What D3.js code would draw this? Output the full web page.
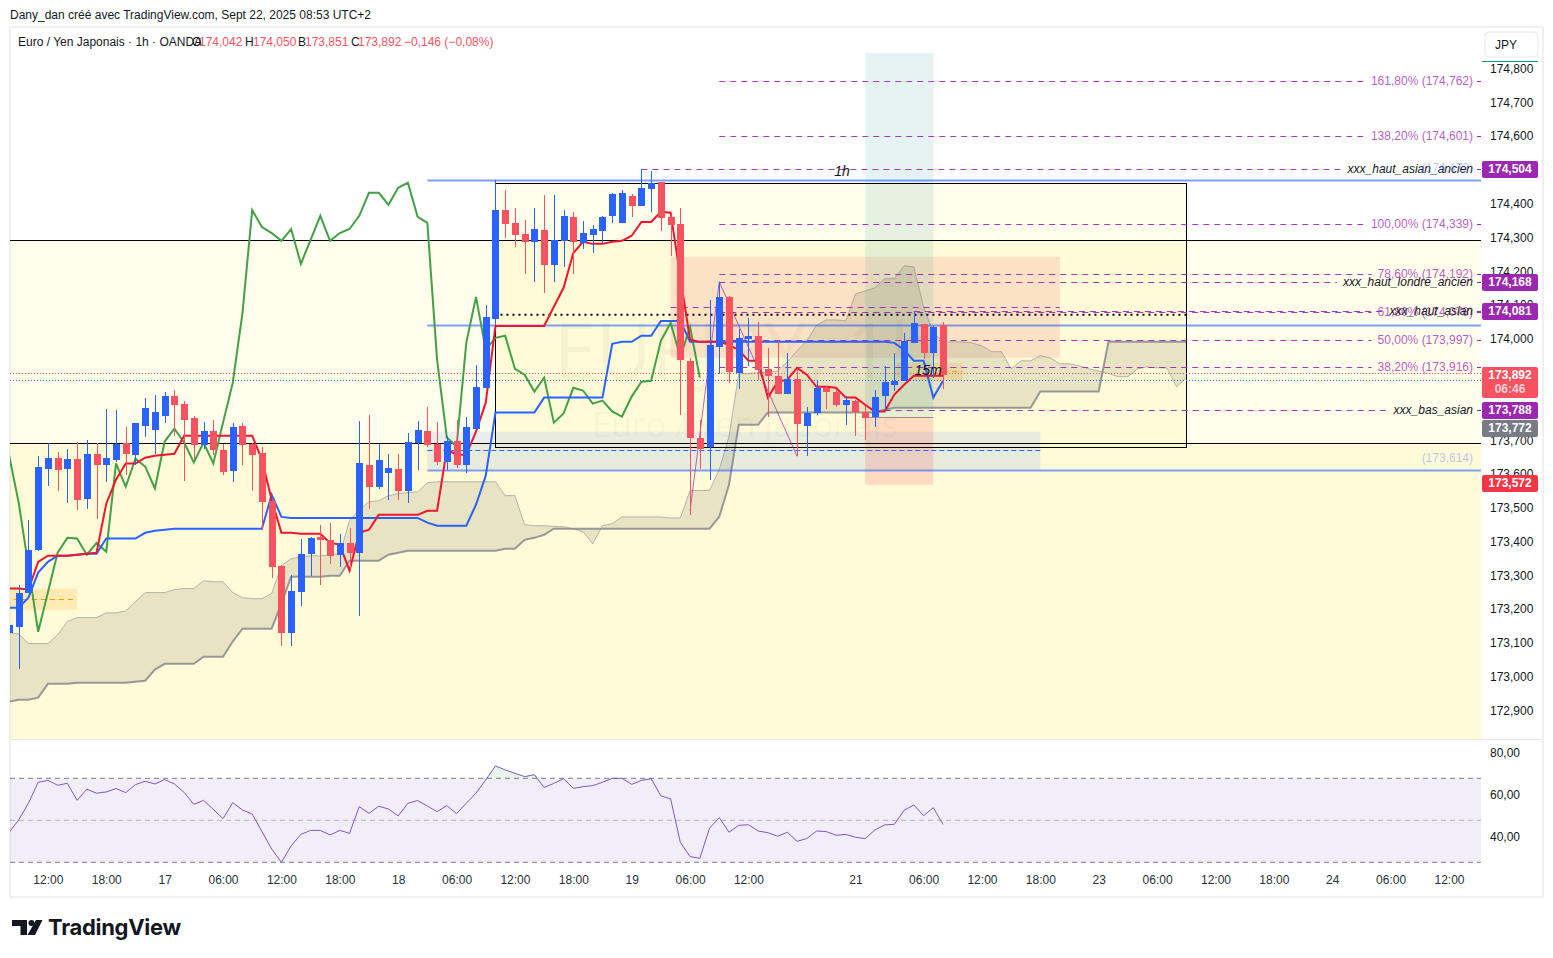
<!DOCTYPE html>
<html>
<head>
<meta charset="utf-8">
<script src="https://cdn.jsdelivr.net/npm/d3@7"></script>
<style>
  html, body { margin: 0; padding: 0; background: #fff; }
  svg { display: block; font-family: "Liberation Sans", Arial, sans-serif; }
</style>
</head>
<body>
<div id="chart"></div>
<script>
// candles, one per hour, first one sits at index -1
const FIRST_INDEX = -1;
const opens = [173.130,173.148,173.249,173.376,173.616,173.648,173.616,173.645,173.527,173.660,173.628,173.642,173.693,173.657,173.743,173.731,173.773,173.832,173.808,173.767,173.687,173.728,173.672,173.610,173.743,173.690,173.663,173.521,173.329,173.130,173.252,173.364,173.414,173.405,173.361,173.396,173.367,173.628,173.562,173.604,173.616,173.551,173.693,173.728,173.690,173.634,173.699,173.628,173.734,173.855,174.059,174.381,174.343,174.310,174.287,174.322,174.219,174.290,174.361,174.284,174.307,174.319,174.364,174.343,174.423,174.393,174.444,174.465,174.361,174.340,173.935,173.705,173.681,173.976,174.124,173.899,174.000,174.009,173.911,173.890,173.838,173.882,173.743,173.779,173.855,173.844,173.805,173.817,173.782,173.770,173.832,173.864,173.876,173.988,174.044,173.958,174.042];
const highs = [173.169,173.272,173.465,173.654,173.693,173.666,173.675,173.696,173.702,173.693,173.793,173.790,173.740,173.752,173.826,173.835,173.844,173.850,173.817,173.773,173.755,173.761,173.690,173.752,173.752,173.693,173.681,173.524,173.332,173.302,173.409,173.414,173.450,173.456,173.423,173.441,173.758,173.776,173.690,173.660,173.660,173.722,173.758,173.799,173.755,173.711,173.761,173.770,173.923,174.100,174.470,174.441,174.387,174.352,174.387,174.426,174.426,174.381,174.376,174.349,174.337,174.364,174.432,174.441,174.429,174.503,174.497,174.465,174.376,174.387,173.944,173.761,174.115,174.169,174.127,174.030,174.062,174.050,173.973,173.997,173.958,173.911,173.799,173.876,173.861,173.850,173.832,173.820,173.802,173.850,173.920,173.958,174.018,174.080,174.044,174.038,174.050];
const lows = [173.110,173.024,173.249,173.373,173.565,173.551,173.515,173.494,173.497,173.468,173.577,173.636,173.598,173.628,173.708,173.660,173.752,173.711,173.580,173.642,173.675,173.657,173.598,173.577,173.628,173.551,173.435,173.293,173.092,173.092,173.210,173.299,173.272,173.334,173.326,173.314,173.181,173.497,173.557,173.524,173.524,173.515,173.613,173.681,173.628,173.613,173.619,173.604,173.734,173.855,174.041,174.299,174.272,174.192,174.169,174.136,174.169,174.213,174.192,174.266,174.254,174.284,174.343,174.343,174.361,174.393,174.376,174.319,174.245,173.776,173.479,173.616,173.583,173.897,173.870,173.852,173.920,173.879,173.770,173.838,173.838,173.654,173.654,173.776,173.793,173.799,173.746,173.711,173.702,173.740,173.785,173.847,173.876,173.988,173.941,173.885,173.851];
const closes = [173.154,173.249,173.376,173.622,173.648,173.613,173.645,173.524,173.660,173.628,173.648,173.690,173.660,173.752,173.796,173.782,173.832,173.805,173.761,173.687,173.728,173.672,173.607,173.740,173.687,173.657,173.518,173.326,173.130,173.255,173.364,173.411,173.405,173.358,173.396,173.367,173.631,173.560,173.642,173.619,173.551,173.696,173.731,173.687,173.634,173.699,173.628,173.740,173.858,174.065,174.381,174.340,174.307,174.287,174.325,174.219,174.293,174.364,174.287,174.313,174.325,174.361,174.429,174.432,174.393,174.447,174.462,174.358,174.337,173.938,173.705,173.675,173.982,174.124,173.902,174.003,174.009,173.908,173.890,173.838,173.882,173.749,173.779,173.855,173.844,173.805,173.820,173.782,173.767,173.829,173.873,173.876,173.994,174.047,173.958,174.035,173.892];

// ichimoku lines, same index origin
const tenkan = [173.261,173.261,173.258,173.340,173.358,173.358,173.358,173.361,173.364,173.367,173.512,173.583,173.631,173.631,173.648,173.654,173.657,173.660,173.713,173.713,173.713,173.713,173.713,173.713,173.713,173.713,173.642,173.524,173.426,173.426,173.423,173.423,173.423,173.396,173.391,173.314,173.426,173.435,173.479,173.479,173.479,173.479,173.479,173.491,173.491,173.672,173.657,173.657,173.725,173.811,174.038,174.038,174.038,174.038,174.038,174.038,174.095,174.151,174.254,174.287,174.281,174.281,174.287,174.290,174.305,174.346,174.346,174.376,174.373,174.183,173.997,173.991,173.991,173.991,173.982,173.967,173.935,173.935,173.826,173.873,173.879,173.914,173.894,173.858,173.858,173.855,173.826,173.826,173.805,173.785,173.785,173.835,173.864,173.891,173.891,173.891,173.891];
const kijun = [173.204,173.204,173.234,173.308,173.340,173.358,173.358,173.361,173.364,173.364,173.409,173.409,173.409,173.409,173.426,173.432,173.435,173.438,173.438,173.438,173.438,173.438,173.438,173.438,173.438,173.438,173.438,173.539,173.473,173.470,173.470,173.470,173.470,173.470,173.470,173.470,173.470,173.470,173.470,173.470,173.470,173.470,173.470,173.456,173.447,173.447,173.447,173.447,173.509,173.595,173.782,173.782,173.782,173.782,173.782,173.826,173.826,173.826,173.826,173.826,173.826,173.826,173.985,173.991,173.991,174.009,174.009,174.053,174.053,174.053,173.991,173.991,173.991,173.991,173.991,173.991,173.991,173.991,173.991,173.991,173.991,173.991,173.991,173.991,173.991,173.991,173.991,173.991,173.991,173.991,173.991,173.988,173.967,173.935,173.935,173.826,173.876];
const lagging = [173.657,173.515,173.326,173.133,173.249,173.367,173.411,173.409,173.361,173.396,173.370,173.631,173.562,173.645,173.622,173.557,173.696,173.734,173.693,173.634,173.693,173.631,173.752,173.870,174.077,174.381,174.331,174.313,174.290,174.325,174.222,174.293,174.364,174.290,174.313,174.325,174.364,174.432,174.432,174.397,174.447,174.462,174.361,174.343,173.938,173.708,173.681,173.988,174.124,173.967,174.003,174.009,173.911,173.894,173.844,173.885,173.752,173.779,173.855,173.847,173.808,173.817,173.785,173.770,173.829,173.873,173.876,173.994,174.047,173.947,174.035,173.885];
const spanA = [173.130,173.127,173.098,173.098,173.098,173.124,173.163,173.175,173.175,173.175,173.189,173.189,173.195,173.222,173.249,173.249,173.249,173.258,173.261,173.261,173.284,173.281,173.281,173.249,173.234,173.231,173.231,173.246,173.329,173.349,173.355,173.358,173.358,173.361,173.364,173.462,173.494,173.518,173.521,173.536,173.542,173.545,173.547,173.574,173.577,173.577,173.577,173.577,173.577,173.577,173.577,173.536,173.536,173.450,173.447,173.447,173.445,173.444,173.438,173.429,173.393,173.447,173.453,173.473,173.473,173.473,173.473,173.473,173.470,173.470,173.551,173.551,173.551,173.613,173.711,173.897,173.897,173.900,173.902,173.905,173.932,173.965,173.994,174.041,174.056,174.056,174.053,174.133,174.142,174.151,174.178,174.178,174.216,174.213,174.095,174.018,173.991,173.991,173.991,173.988,173.979,173.962,173.962,173.911,173.935,173.935,173.950,173.944,173.926,173.926,173.920,173.911,173.905,173.897,173.888,173.888,173.911,173.917,173.914,173.914,173.858,173.885];
const spanB = [172.926,172.932,172.932,172.938,172.979,172.979,172.979,172.982,172.982,172.982,172.982,172.982,172.982,172.985,172.988,173.021,173.038,173.038,173.038,173.038,173.059,173.059,173.059,173.104,173.142,173.142,173.142,173.142,173.216,173.296,173.296,173.296,173.296,173.299,173.299,173.343,173.343,173.343,173.343,173.361,173.367,173.373,173.373,173.373,173.373,173.373,173.373,173.373,173.373,173.373,173.373,173.379,173.379,173.405,173.411,173.420,173.438,173.438,173.438,173.438,173.438,173.438,173.438,173.438,173.438,173.438,173.438,173.438,173.438,173.438,173.438,173.438,173.438,173.473,173.568,173.746,173.746,173.746,173.782,173.782,173.782,173.782,173.782,173.782,173.782,173.782,173.782,173.782,173.782,173.782,173.790,173.796,173.796,173.796,173.796,173.796,173.796,173.796,173.796,173.796,173.796,173.796,173.796,173.796,173.796,173.796,173.844,173.844,173.844,173.844,173.844,173.844,173.844,173.991,173.991,173.991,173.991,173.991,173.991,173.991,173.991,173.991,173.991];

// thin purple zigzag
const zigzagIndex = [69, 72, 80];
const zigzagPrice = [173.491, 174.169, 173.652];

// rsi pane, same index origin
const rsi = [44.1,50.2,58.1,68.1,69.0,66.7,67.6,59.5,64.8,62.9,63.5,65.1,63.2,67.0,68.6,67.3,69.4,67.3,63.3,57.6,59.5,55.2,50.8,58.4,54.9,53.0,44.6,36.3,30.0,37.8,43.3,45.2,45.2,43.0,45.2,43.8,56.5,53.3,56.7,55.4,52.1,58.1,59.4,56.8,54.1,57.0,53.2,58.1,62.9,69.2,75.9,74.0,72.4,70.8,71.7,65.6,67.6,69.8,65.2,66.0,66.5,68.1,70.0,70.0,67.1,69.0,69.8,61.6,60.2,39.5,32.7,31.9,46.2,51.3,44.3,47.6,47.9,44.9,44.1,42.4,44.3,40.0,41.3,44.9,44.6,42.9,43.3,41.9,41.3,45.4,47.8,48.1,54.8,57.3,52.2,56.0,48.1];
const rsiLevels = [70, 50, 30];
const rsiTicks = [80, 60, 40];

// axes
const priceTicks = [174.8,174.7,174.6,174.5,174.4,174.3,174.2,174.1,174.0,173.9,173.8,173.7,173.6,173.5,173.4,173.3,173.2,173.1,173.0,172.9];
const timeTickIndex = [3,9,15,21,27,33,39,45,51,57,63,69,75,86,93,99,105,111,117,123,129,135,141,147];
const timeTickLabels = ["12:00","18:00","17","06:00","12:00","18:00","18","06:00","12:00","18:00","19","06:00","12:00","21","06:00","12:00","18:00","23","06:00","12:00","18:00","24","06:00","12:00"];

// fibonacci levels, from index 72
const fibValues = [174.762,174.601,174.339,174.192,174.078,173.997,173.916];
const fibLabels = ["161,80% (174,762)","138,20% (174,601)","100,00% (174,339)","78,60% (174,192)","61,80% (174,078)","50,00% (173,997)","38,20% (173,916)"];

// named levels
const namedValues = [174.504,174.168,174.081,173.788];
const namedStarts = [64,72,92,89];
const namedLabels = ["xxx_haut_asian_ancien","xxx_haut_londre_ancien","xxx_haut_asian","xxx_bas_asian"];

// price tags on the right
const tagValues = [174.504,174.168,174.081,173.788,173.772,173.572];
const tagLabels = ["174,504","174,168","174,081","173,788","173,772","173,572"];
const tagColors = ["#9c27b0","#9c27b0","#9c27b0","#9c27b0","#787b86","#f23645"];
const tagShift = [0,0,0,0,12,0];

const width = 1553;
const height = 958;
const pane = { left: 10, right: 1481, top: 27, bottom: 739 };
const UP = "#2962ff";
const DOWN = "#f7525f";

const x = d3.scaleLinear().domain([0, 147]).range([18.7, 1449]);
const y = d3.scaleLinear().domain([174.8, 172.9]).range([68.5, 710.5]);
const yRsi = d3.scaleLinear().domain([70, 30]).range([778.3, 862.3]);

const svg = d3.select("#chart").append("svg").attr("width", width).attr("height", height);

// frame
svg.append("rect").attr("x", 10).attr("y", 27).attr("width", 1533).attr("height", 870)
  .attr("fill", "none").attr("stroke", "#f0f0f0").attr("stroke-width", 2);
svg.append("line").attr("x1", 10).attr("x2", 1543).attr("y1", 739.5).attr("y2", 739.5).attr("stroke", "#e8e8e8");

const defs = svg.append("defs");
defs.append("clipPath").attr("id", "main-clip").append("rect")
  .attr("x", pane.left).attr("y", pane.top).attr("width", pane.right - pane.left).attr("height", pane.bottom - pane.top);
defs.append("clipPath").attr("id", "rsi-clip").append("rect")
  .attr("x", pane.left).attr("y", 740).attr("width", pane.right - pane.left).attr("height", 123);

const main = svg.append("g").attr("clip-path", "url(#main-clip)");

function box(i0, i1, p0, p1, fill) {
  return main.append("rect")
    .attr("x", x(i0)).attr("width", x(i1) - x(i0))
    .attr("y", y(p0)).attr("height", y(p1) - y(p0))
    .attr("fill", fill);
}
function hline(i0, xEnd, p, stroke, sw, dash, op) {
  return main.append("line")
    .attr("x1", i0 === null ? pane.left : x(i0)).attr("x2", xEnd)
    .attr("y1", Math.round(y(p)) + 0.5).attr("y2", Math.round(y(p)) + 0.5)
    .attr("stroke", stroke).attr("stroke-width", sw)
    .attr("stroke-dasharray", dash).attr("opacity", op);
}

// yellow zones
const YELLOW = "rgba(255,235,59,0.1)";
box(-2, 151.2, 174.293, 172.6, YELLOW);
box(-2, 151.2, 173.693, 172.6, YELLOW);
box(49, 120, 174.462, 173.681, YELLOW);

// watermark
main.append("text").attr("x", 745).attr("y", 378).attr("text-anchor", "middle")
  .attr("font-size", 76).attr("font-family", "'Open Sans', sans-serif").attr("fill", "rgba(80,70,30,0.05)").text("EURJPY, 1h");
main.append("text").attr("x", 745).attr("y", 437).attr("text-anchor", "middle")
  .attr("font-size", 34).attr("font-family", "'Open Sans', sans-serif").attr("fill", "rgba(80,70,30,0.05)").text("Euro / Yen Japonais");

// zones
box(67, 107, 174.243, 173.944, "rgba(225,80,70,0.14)");
box(42, 105, 173.725, 173.613, "rgba(41,98,255,0.1)");
box(-2, 6, 173.261, 173.198, "rgba(255,152,0,0.17)");
box(90, 97, 173.929, 173.876, "rgba(255,152,0,0.17)");
box(87, 94, 174.846, 173.770, "rgba(0,150,136,0.1)");
box(87, 94, 173.770, 173.568, "rgba(242,54,69,0.16)");
hline(87, x(94), 173.770, "#787b86", 1, null, 0.8);

// cloud
const cloudRows = spanA.map((a, k) => ({ i: k + FIRST_INDEX, a, b: spanB[k] }));
main.append("path").datum(cloudRows)
  .attr("fill", "rgba(110,110,90,0.17)")
  .attr("d", d3.area().x((d) => x(d.i)).y0((d) => y(d.a)).y1((d) => y(d.b)));
main.append("path").datum(cloudRows).attr("fill", "none")
  .attr("stroke", "#787b86").attr("stroke-width", 1).attr("opacity", 0.5)
  .attr("d", d3.line().x((d) => x(d.i)).y((d) => y(d.a)));
main.append("path").datum(cloudRows).attr("fill", "none")
  .attr("stroke", "#787b86").attr("stroke-width", 2).attr("opacity", 0.75)
  .attr("d", d3.line().x((d) => x(d.i)).y((d) => y(d.b)));

// black lines and box
hline(null, pane.right, 174.293, "#000", 1);
hline(null, pane.right, 173.693, "#000", 1);
main.append("rect")
  .attr("x", Math.round(x(49)) + 0.5).attr("width", Math.round(x(120)) - Math.round(x(49)))
  .attr("y", Math.round(y(174.462)) + 0.5).attr("height", Math.round(y(173.681)) - Math.round(y(174.462)))
  .attr("fill", "none").attr("stroke", "#000");
main.append("line")
  .attr("x1", x(49) + 5).attr("x2", x(120))
  .attr("y1", y(174.071)).attr("y2", y(174.071))
  .attr("stroke", "#000").attr("stroke-width", 2).attr("stroke-dasharray", "2,4");

// blue levels
[174.470, 174.041, 173.613].forEach((p) => hline(42, pane.right, p, "#2962ff", 2, null, 0.6));
hline(42, x(105), 173.672, "#2962ff", 1, "5,3");

// dotted last price lines
hline(null, pane.right, 173.900, "#f7525f", 1, "1,2");
hline(null, pane.right, 173.879, "#2962ff", 1, "1,2");

// small orange dashes
hline(-0.5, x(6), 173.231, "#ff9800", 1, "5,4");
hline(95, x(97), 173.905, "#ff9800", 1, "5,4");

// purple level without text
const PURPLE = "#9c27b0";
hline(67, x(107), 174.095, PURPLE, 1, "6,5", 0.9);

// labelled levels: the line is cut around its text
const labels = svg.append("g");
function labelledLine(i0, p, label, fill, style) {
  const t = labels.append("text")
    .attr("x", 1473).attr("y", y(p) + 4).attr("text-anchor", "end")
    .attr("font-size", 12).attr("fill", fill).attr("font-style", style).text(label);
  const start = 1473 - t.node().getComputedTextLength();
  hline(i0, start - 6, p, PURPLE, 1, "6,5", 0.9);
  main.append("line").attr("x1", 1477).attr("x2", pane.right)
    .attr("y1", Math.round(y(p)) + 0.5).attr("y2", Math.round(y(p)) + 0.5)
    .attr("stroke", PURPLE);
}
fibValues.forEach((p, k) => labelledLine(72, p, fibLabels[k], "rgba(156,39,176,0.75)", "normal"));
namedValues.forEach((p, k) => labelledLine(namedStarts[k], p, namedLabels[k], "#131722", "italic"));
labels.selectAll("text.pale").data([[174.470, "(174,472)"], [173.613, "(173,614)"]]).enter().append("text")
  .attr("class", "pale").attr("x", 1473).attr("y", (d) => y(d[0]) - 8).attr("text-anchor", "end")
  .attr("font-size", 12).attr("fill", "rgba(41,98,255,0.35)").text((d) => d[1]);
labels.append("text").attr("x", 842).attr("y", 176).attr("text-anchor", "middle")
  .attr("font-size", 14).attr("font-style", "italic").attr("fill", "#131722").text("1h");
labels.append("text").attr("x", 928).attr("y", 375).attr("text-anchor", "middle")
  .attr("font-size", 14).attr("font-style", "italic").attr("fill", "#131722").text("15m");

// zigzag
main.append("path").datum(zigzagIndex.map((i, k) => [i, zigzagPrice[k]]))
  .attr("fill", "none").attr("stroke", PURPLE).attr("opacity", 0.7)
  .attr("d", d3.line().x((d) => x(d[0])).y((d) => y(d[1])));

// ichimoku conversion, base and lagging lines
function seriesLine(values, stroke) {
  main.append("path").datum(values).attr("fill", "none")
    .attr("stroke", stroke).attr("stroke-width", 2)
    .attr("d", d3.line().x((d, k) => x(k + FIRST_INDEX)).y((d) => y(d)));
}
seriesLine(lagging, "#43a047");
seriesLine(kijun, "#2962ff");
seriesLine(tenkan, "#f0152d");

// candles
const bars = opens.map((o, k) => ({ i: k + FIRST_INDEX, o, h: highs[k], l: lows[k], c: closes[k] }));
const candles = main.append("g").attr("shape-rendering", "crispEdges");
candles.selectAll("rect.wick").data(bars).enter().append("rect")
  .attr("class", "wick")
  .attr("x", (d) => Math.round(x(d.i)))
  .attr("width", 1)
  .attr("y", (d) => y(d.h))
  .attr("height", (d) => y(d.l) - y(d.h))
  .attr("fill", (d) => (d.c >= d.o ? UP : DOWN));
candles.selectAll("rect.body").data(bars).enter().append("rect")
  .attr("class", "body")
  .attr("x", (d) => Math.round(x(d.i)) - 3)
  .attr("width", 7)
  .attr("y", (d) => y(Math.max(d.o, d.c)))
  .attr("height", (d) => Math.max(1, Math.abs(y(d.o) - y(d.c))))
  .attr("fill", (d) => (d.c >= d.o ? UP : DOWN));

// price axis
const priceAxis = svg.append("g").attr("transform", "translate(1487,0)")
  .call(d3.axisRight(y).tickValues(priceTicks).tickSize(0).tickFormat((d) => d.toFixed(3).replace(".", ",")));
priceAxis.select(".domain").remove();
priceAxis.selectAll("text").attr("font-size", 12).attr("font-family", "'Liberation Sans', sans-serif").attr("fill", "#131722").attr("x", 3);

// currency button
svg.append("rect").attr("x", 1485).attr("y", 32).attr("width", 53).attr("height", 25).attr("rx", 4)
  .attr("fill", "#fff").attr("stroke", "#e6e8ee");
svg.append("text").attr("x", 1495).attr("y", 49).attr("font-size", 12).attr("fill", "#131722").text("JPY");
svg.append("line").attr("x1", 1482).attr("x2", 1538).attr("y1", 61.5).attr("y2", 61.5).attr("stroke", "#089981");

// price tags
function tag(p, shift, h, fill) {
  svg.append("rect").attr("x", 1482).attr("width", 56).attr("y", Math.round(y(p)) + shift - 8).attr("height", h)
    .attr("rx", 2).attr("fill", fill);
}
function tagText(p, shift, txt, fill) {
  svg.append("text").attr("x", 1510).attr("y", Math.round(y(p)) + shift + 4).attr("text-anchor", "middle")
    .attr("font-size", 12).attr("font-weight", 700).attr("fill", fill).text(txt);
}
tagValues.forEach((p, k) => {
  tag(p, tagShift[k], 17, tagColors[k]);
  tagText(p, tagShift[k], tagLabels[k], "#fff");
});
tag(173.892, 0, 31, "#f7525f");
tagText(173.892, 0, "173,892", "#fff");
tagText(173.892, 14, "06:46", "rgba(255,255,255,0.75)");

// rsi pane
const rsiG = svg.append("g").attr("clip-path", "url(#rsi-clip)");
rsiG.append("rect").attr("x", pane.left).attr("width", pane.right - pane.left)
  .attr("y", yRsi(70)).attr("height", yRsi(30) - yRsi(70)).attr("fill", "rgba(126,87,194,0.1)");
rsiG.selectAll("line.lvl").data(rsiLevels).enter().append("line").attr("class", "lvl")
  .attr("x1", pane.left).attr("x2", pane.right)
  .attr("y1", (d) => yRsi(d)).attr("y2", (d) => yRsi(d))
  .attr("stroke", "#787b86").attr("stroke-dasharray", "5,4")
  .attr("opacity", (d) => (d === 50 ? 0.5 : 1));
rsiG.append("path").datum(rsi)
  .attr("fill", "rgba(76,175,80,0.12)")
  .attr("d", d3.area().x((d, k) => x(k + FIRST_INDEX)).y0(yRsi(70)).y1((d) => yRsi(Math.max(d, 70))));
rsiG.append("path").datum(rsi).attr("fill", "none").attr("stroke", "#7e57c2").attr("stroke-width", 1)
  .attr("d", d3.line().x((d, k) => x(k + FIRST_INDEX)).y((d) => yRsi(d)));

const rsiAxis = svg.append("g").attr("transform", "translate(1487,0)")
  .call(d3.axisRight(yRsi).tickValues(rsiTicks).tickSize(0).tickFormat((d) => d + ",00"));
rsiAxis.select(".domain").remove();
rsiAxis.selectAll("text").attr("font-size", 12).attr("font-family", "'Liberation Sans', sans-serif").attr("fill", "#131722").attr("x", 3).attr("dy", "-0.1em");

// time axis
const timeAxis = svg.append("g").attr("transform", "translate(0,875)")
  .call(d3.axisBottom(x).tickValues(timeTickIndex).tickSize(0).tickFormat((d, k) => timeTickLabels[k]));
timeAxis.select(".domain").remove();
timeAxis.selectAll("text").attr("font-size", 12).attr("font-family", "'Liberation Sans', sans-serif").attr("fill", "#2a2e39").attr("y", 0).attr("dy", "0.71em");

// header
svg.append("text").attr("x", 10).attr("y", 19).attr("font-size", 12).attr("fill", "#131722")
  .text("Dany_dan créé avec TradingView.com, Sept 22, 2025 08:53 UTC+2");
svg.append("text").attr("x", 18).attr("y", 46).attr("font-size", 12).attr("fill", "#131722")
  .text("Euro / Yen Japonais · 1h · OANDA");
const legendItems = [[192,"O","#131722"],[199,"174,042",DOWN],[245,"H","#131722"],[253,"174,050",DOWN],[298,"B","#131722"],[305,"173,851",DOWN],[351,"C","#131722"],[358,"173,892",DOWN],[404,"−0,146 (−0,08%)",DOWN]];
svg.selectAll("text.leg").data(legendItems).enter().append("text").attr("class", "leg")
  .attr("x", (d) => d[0]).attr("y", 46).attr("font-size", 12).attr("fill", (d) => d[2]).text((d) => d[1]);

// logo
const logo = svg.append("g").attr("fill", "#131722");
logo.append("path").attr("d", "M12 920H27V935H20.5V926H12Z");
logo.append("circle").attr("cx", 31.5).attr("cy", 923).attr("r", 3);
logo.append("path").attr("d", "M36 920H42.5L35 935H27.5Z");
svg.append("text").attr("x", 48).attr("y", 935).attr("font-size", 22).attr("font-weight", 700)
  .attr("font-family", "Inter, 'Liberation Sans', sans-serif").attr("letter-spacing", "-0.3").attr("fill", "#131722").text("TradingView");
</script>
</body>
</html>
